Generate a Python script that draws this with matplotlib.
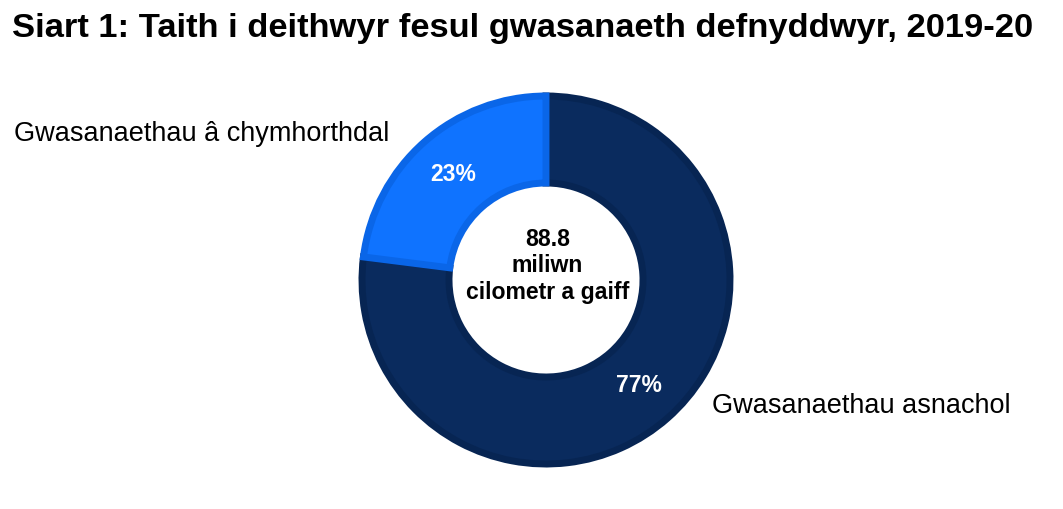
import matplotlib
matplotlib.use("Agg")
import matplotlib.pyplot as plt

plt.rcParams['font.family'] = ['Liberation Sans', 'DejaVu Sans']

title = "Siart 1: Taith i deithwyr fesul gwasanaeth defnyddwyr, 2019-20"
categories = ["Gwasanaethau asnachol", "Gwasanaethau â chymhorthdal"]
shares = [77, 23]
centre_lines = ["88.8", "miliwn", "cilometr a gaiff"]

fill_colors = ["#0A2B5E", "#0F73FF"]
edge_colors = ["#072553", "#0A66E8"]

W, H = 1063, 509
fig = plt.figure(figsize=(W / 100, H / 100), dpi=100)
ax = fig.add_axes([0, 0, 1, 1])

cx, cy = 546, H - 280
R = 184
ring = 87
wedges, autotexts = ax.pie(
    shares, radius=R, center=(cx, cy), startangle=90, counterclock=False,
    colors=fill_colors, autopct=lambda p: f"{p:.0f}%", pctdistance=(R - ring / 2) / R,
    wedgeprops=dict(width=ring, linewidth=5),
    textprops=dict(color="white", fontsize=16.5, fontweight="bold"),
)[0::2]
for w, ec in zip(wedges, edge_colors):
    w.set_edgecolor(ec)

ax.set_xlim(0, W)
ax.set_ylim(0, H)
ax.set_aspect("auto")
ax.axis("off")

baselines = [246, 272.5, 298.5]
for line, yb in zip(centre_lines, baselines):
    ax.text(cx + 1.5, H - yb, line, ha="center", va="baseline",
            fontsize=16.6, fontweight="bold", color="black")

ax.text(712, H - 413, categories[0], ha="left", va="baseline", fontsize=19.5, color="black")
ax.text(14, H - 141, categories[1], ha="left", va="baseline", fontsize=19.5, color="black")

fig.text(12 / W, 1 - 37 / H, title, ha="left", va="baseline", fontsize=24.8,
         fontweight="bold", color="black")

fig.savefig("out.png", dpi=100, facecolor="white")
